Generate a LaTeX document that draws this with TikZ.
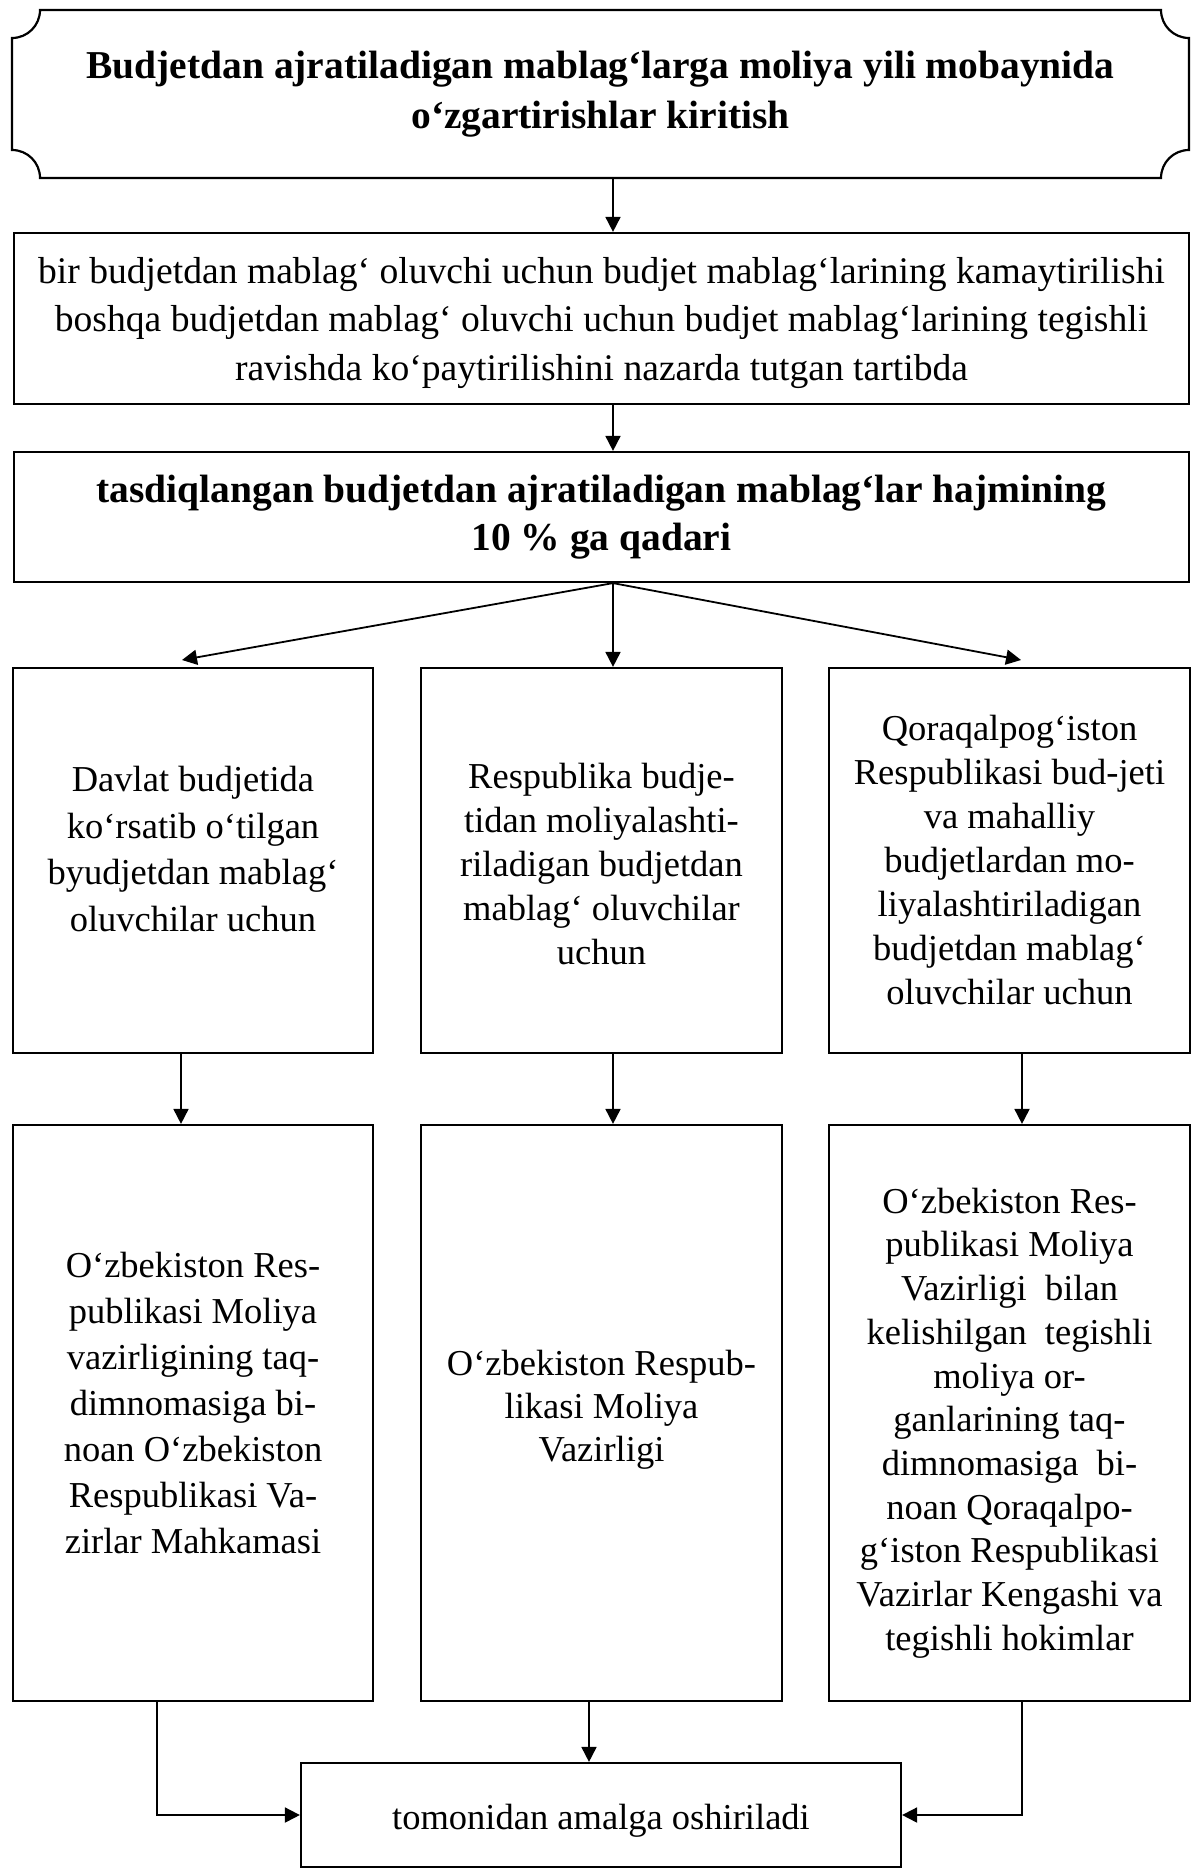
\documentclass[tikz,border=0pt]{standalone}
\usepackage{fontspec}
\setmainfont{Liberation Serif}
\usetikzlibrary{arrows.meta}
\begin{document}
\begin{tikzpicture}[x=1pt,y=-1pt,
  box/.style={draw, line width=2.2pt, rectangle, inner sep=0pt},
  tx/.style={align=center, inner sep=0pt},
  arr/.style={line width=1.8pt, -{Triangle[length=15pt,width=15pt]}}]
\newcommand{\fs}[1]{\fontsize{36.5}{#1}\selectfont}
\newcommand{\fb}[1]{\fontsize{39.5}{#1}\selectfont\bfseries}
\useasboundingbox (0,0) rectangle (1192,1876);
% top plaque
\node[box, draw=none, minimum width=1177pt, minimum height=168pt] (top) at (600.5,94) {};
\draw[line width=2.2pt] (40,10) -- (1161,10) .. controls (1161,25.5) and (1173.5,38) .. (1189,38)
  -- (1189,150) .. controls (1173.5,150) and (1161,162.5) .. (1161,178)
  -- (40,178) .. controls (40,162.5) and (27.5,150) .. (12,150)
  -- (12,38) .. controls (27.5,38) and (40,25.5) .. (40,10) -- cycle;
\node[tx, font=\fb{50}] (topt) at (600.5,94)
  {Budjetdan ajratiladigan mablag‘larga moliya yili mobaynida\\o‘zgartirishlar kiritish};
% box 2 and 3
\node[box, minimum width=1175pt, minimum height=171pt] (b2) at (601.5,318.5) {};
\node[tx, font=\fontsize{37.6}{48.5}\selectfont] (b2t) at (601.5,323)
  {bir budjetdan mablag‘ oluvchi uchun budjet mablag‘larining kamaytirilishi\\
   boshqa budjetdan mablag‘ oluvchi uchun budjet mablag‘larining tegishli\\
   ravishda ko‘paytirilishini nazarda tutgan tartibda};
\node[box, minimum width=1175pt, minimum height=130pt] (b3) at (601.5,517) {};
\node[tx, font=\fb{47.5}] (b3t) at (601.5,517)
  {tasdiqlangan budjetdan ajratiladigan mablag‘lar hajmining\\10 \% ga qadari};
% row 1
\node[box, minimum width=360pt, minimum height=385pt] (r1l) at (193,860.5) {};
\node[box, minimum width=361pt, minimum height=385pt] (r1m) at (601.5,860.5) {};
\node[box, minimum width=361pt, minimum height=385pt] (r1r) at (1009.5,860.5) {};
\node[tx, font=\fs{46.5}] (r1lt) at (193,849)
  {Davlat budjetida\\ko‘rsatib o‘tilgan\\byudjetdan mablag‘\\oluvchilar uchun};
\node[tx, font=\fs{44}] (r1mt) at (601.5,864)
  {Respublika budje-\\tidan moliyalashti-\\riladigan budjetdan\\mablag‘ oluvchilar\\uchun};
\node[tx, font=\fs{44}] (r1rt) at (1009.5,860.5)
  {Qoraqalpog‘iston\\Respublikasi bud-jeti\\va mahalliy\\budjetlardan mo-\\liyalashtiriladigan\\budjetdan mablag‘\\oluvchilar uchun};
% row 2
\node[box, minimum width=360pt, minimum height=576pt] (r2l) at (193,1413) {};
\node[box, minimum width=361pt, minimum height=576pt] (r2m) at (601.5,1413) {};
\node[box, minimum width=361pt, minimum height=576pt] (r2r) at (1009.5,1413) {};
\node[tx, font=\fs{46}] (r2lt) at (193,1403)
  {O‘zbekiston Res-\\publikasi Moliya\\vazirligining taq-\\dimnomasiga bi-\\noan O‘zbekiston\\Respublikasi Va-\\zirlar Mahkamasi};
\node[tx, font=\fs{43}] (r2mt) at (601.5,1410)
  {O‘zbekiston Respub-\\likasi Moliya\\Vazirligi};
\node[tx, font=\fs{43.7}] (r2rt) at (1009.5,1423)
  {O‘zbekiston Res-\\publikasi Moliya\\Vazirligi\enspace bilan\\kelishilgan\enspace tegishli\\moliya or-\\ganlarining taq-\\dimnomasiga\enspace bi-\\noan Qoraqalpo-\\g‘iston Respublikasi\\Vazirlar Kengashi va\\tegishli hokimlar};
% bottom
\node[box, minimum width=600pt, minimum height=104pt] (bot) at (601,1815) {};
\node[tx, font=\fs{44}] (bott) at (601,1821) {tomonidan amalga oshiriladi};
% helper x positions
\coordinate (xa) at (613,0);
\coordinate (xl) at (181,0);
\coordinate (xr) at (1022,0);
\coordinate (xb1) at (157,0);
\coordinate (xb2) at (589,0);
\coordinate (fl) at (182,660);
\coordinate (fr) at (1021,660);
% connectors
\draw[arr] (top.south -| xa) -- (b2.north -| xa);
\draw[arr] (b2.south -| xa) -- (b3.north -| xa);
\draw[arr] (b3.south -| xa) -- (fl);
\draw[arr] (b3.south -| xa) -- (r1m.north -| xa);
\draw[arr] (b3.south -| xa) -- (fr);
\draw[arr] (r1l.south -| xl) -- (r2l.north -| xl);
\draw[arr] (r1m.south -| xa) -- (r2m.north -| xa);
\draw[arr] (r1r.south -| xr) -- (r2r.north -| xr);
\draw[arr] (r2l.south -| xb1) |- (bot.west);
\draw[arr] (r2m.south -| xb2) -- (bot.north -| xb2);
\draw[arr] (r2r.south -| xr) |- (bot.east);
\end{tikzpicture}
\end{document}
